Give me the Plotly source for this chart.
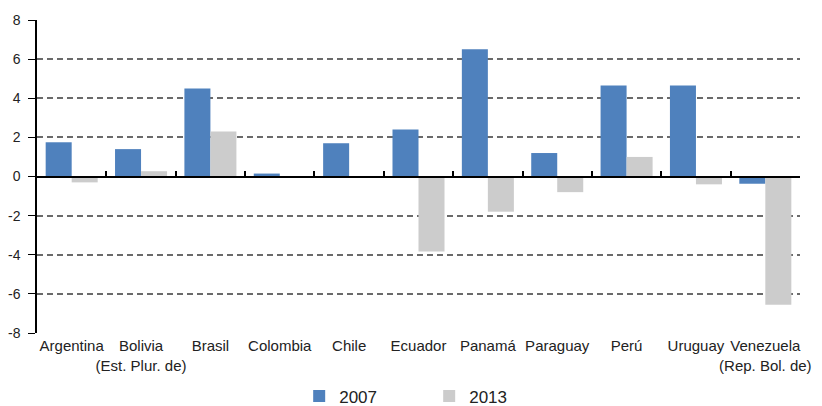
import plotly.graph_objects as go

# ─── Data ────────────────────────────────────────────────────────────────────
COUNTRIES = [
    "Argentina", "Bolivia<br>(Est. Plur. de)", "Brasil", "Colombia", "Chile",
    "Ecuador", "Panamá", "Paraguay", "Perú", "Uruguay",
    "Venezuela<br>(Rep. Bol. de)",
]
VALUES_2007 = [1.75, 1.4, 4.5, 0.15, 1.7, 2.4, 6.5, 1.2, 4.65, 4.65, -0.37]
VALUES_2013 = [-0.3, 0.27, 2.3, 0.0, 0.0, -3.83, -1.8, -0.8, 1.0, -0.4, -6.55]
Y_TICKS = [-8, -6, -4, -2, 0, 2, 4, 6, 8]
Y_TICK_LABELS = ["-8", "-6", "-4", "-2", "0", "2", "4", "6", "8"]

BLUE = "#4f81bd"
GREY = "#cccccc"
FONT = dict(family="Liberation Sans, Arial, sans-serif", size=14, color="#222222")
X_FONT = dict(FONT, size=15)

fig = go.Figure()
fig.add_trace(go.Bar(x=COUNTRIES, y=VALUES_2007, name="2007", marker_color=BLUE,
                     marker_line_width=0))
fig.add_trace(go.Bar(x=COUNTRIES, y=VALUES_2013, name="2013", marker_color=GREY,
                     marker_line_width=0))

# Invisible trace on a second x axis, used only to draw category ticks on the zero line
fig.add_trace(go.Scatter(x=COUNTRIES, y=[0] * len(COUNTRIES), xaxis="x2",
                         mode="markers", marker_opacity=0, showlegend=False,
                         hoverinfo="skip"))

x_range = [-0.5, len(COUNTRIES) - 0.5]

# the page body adds an 8px offset, so the figure is sized to fit the rest
fig.update_layout(
    width=814, height=398,
    font=FONT,
    paper_bgcolor="white",
    plot_bgcolor="white",
    margin=dict(l=29, r=22, t=12, b=73, autoexpand=False),
    barmode="group",
    bargap=0.25,
    bargroupgap=0,
    showlegend=True,
    legend=dict(orientation="h", x=0.514, xanchor="center", y=-0.203, yanchor="middle",
                font=dict(size=17, color="#222222"), itemwidth=30,
                traceorder="normal", entrywidth=85),
    xaxis=dict(range=x_range, showline=False, ticks="", showgrid=False, tickfont=X_FONT,
               tickangle=0, automargin=False, fixedrange=True, ticklabelstandoff=2),
    xaxis2=dict(overlaying="x", anchor="free", position=0.5, range=x_range,
                showline=True, linecolor="black", linewidth=1.5,
                ticks="inside", ticklen=5, tickcolor="black", tickwidth=1.5,
                tickson="boundaries", showticklabels=False, showgrid=False,
                automargin=False, fixedrange=True),
    yaxis=dict(range=[-8, 8], tickvals=Y_TICKS, ticktext=Y_TICK_LABELS,
               showline=True, linecolor="black",
               linewidth=1.5, ticks="outside", ticklen=7, tickcolor="black",
               ticklabelstandoff=5,
               showgrid=True, gridcolor="#6a6a6a", griddash="6px,4px", gridwidth=1.5,
               zeroline=False, tickfont=FONT, automargin=False),
)

fig.write_html("out.html")
